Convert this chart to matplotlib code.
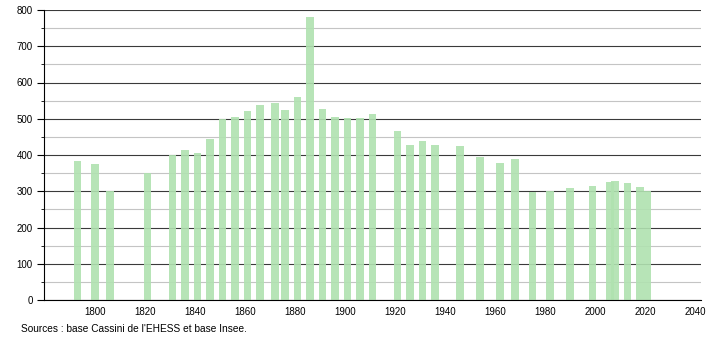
import matplotlib
matplotlib.use('Agg')
import matplotlib.pyplot as plt
from matplotlib.ticker import MultipleLocator

# census years and population
years = [1793, 1800, 1806, 1821, 1831, 1836, 1841, 1846, 1851, 1856,
         1861, 1866, 1872, 1876, 1881, 1886, 1891, 1896, 1901, 1906,
         1911, 1921, 1926, 1931, 1936, 1946, 1954, 1962, 1968, 1975,
         1982, 1990, 1999, 2006, 2008, 2013, 2018, 2021]
population = [384, 375, 301, 351, 400, 413, 406, 444, 499, 505,
              521, 538, 543, 524, 560, 782, 527, 505, 502, 503,
              513, 466, 428, 439, 428, 425, 395, 378, 389, 298,
              301, 310, 315, 325, 328, 323, 312, 301]

x_ticks = [1800, 1820, 1840, 1860, 1880, 1900, 1920, 1940, 1960, 1980, 2000, 2020, 2040]
source_text = "Sources : base Cassini de l'EHESS et base Insee."

plt.rcParams['font.family'] = 'Liberation Sans'

fig = plt.figure(figsize=(7.1, 3.4), dpi=100)
ax = fig.add_axes([44 / 710, 40 / 340, (701 - 44) / 710, 290 / 340])

ax.bar(years, population, width=3.0, color='#b0e2b0', alpha=0.9, zorder=3)

ax.set_xlim(1779.6, 2042.4)
ax.set_ylim(0, 800)
ax.set_xticks(x_ticks)
ax.yaxis.set_major_locator(MultipleLocator(100))
ax.yaxis.set_minor_locator(MultipleLocator(50))

# dark lines every 100, light ones in between
ax.grid(True, which='major', axis='y', color='#3a3a3a', linewidth=0.8, zorder=1)
ax.grid(True, which='minor', axis='y', color='#c4c4c4', linewidth=0.8, zorder=1)

for s in ['top', 'right']:
    ax.spines[s].set_visible(False)
ax.spines['left'].set_zorder(4)
ax.spines['bottom'].set_zorder(4)

ax.tick_params(axis='x', length=0, labelsize=7, pad=5)
ax.tick_params(axis='y', which='major', length=5, labelsize=7, pad=3)
ax.tick_params(axis='y', which='minor', length=2)

fig.text(21 / 710, 1 - 329 / 340, source_text, fontsize=7.3, va='center', ha='left')

plt.savefig('out.png', dpi=100)
